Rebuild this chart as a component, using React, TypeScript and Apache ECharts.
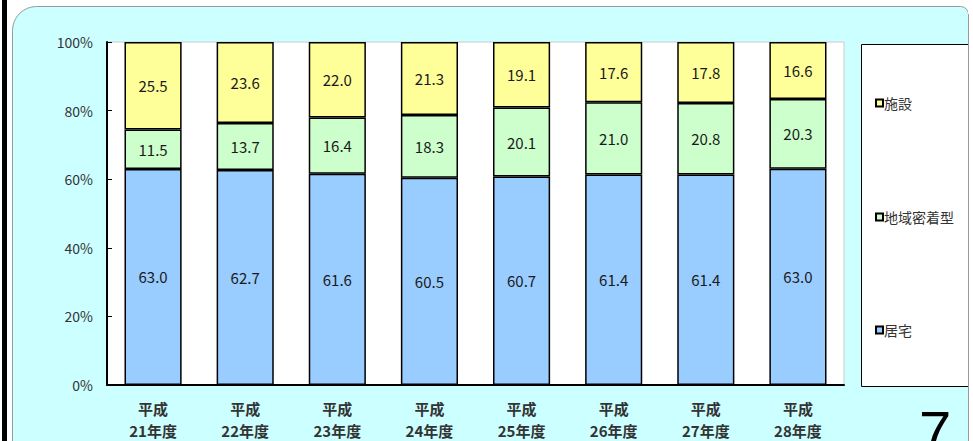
import React, { useEffect, useRef } from "react";
import * as echarts from "echarts";

const categories = ["平成\n21年度", "平成\n22年度", "平成\n23年度", "平成\n24年度", "平成\n25年度", "平成\n26年度", "平成\n27年度", "平成\n28年度"];
const kyotaku = [63.0, 62.7, 61.6, 60.5, 60.7, 61.4, 61.4, 63.0];
const chiiki = [11.5, 13.7, 16.4, 18.3, 20.1, 21.0, 20.8, 20.3];
const shisetsu = [25.5, 23.6, 22.0, 21.3, 19.1, 17.6, 17.8, 16.6];
const yTicks = [0, 20, 40, 60, 80, 100];
const pageNumber = "7";

const FONT = "'Noto Sans CJK JP', 'Noto Sans', sans-serif";

export default function App() {
  const ref = useRef<HTMLDivElement>(null);
  useEffect(() => {
    if (!ref.current) return;
    const chart = echarts.init(ref.current, null, { renderer: "svg" });
    const totals = kyotaku.map((v, i) => v + chiiki[i] + shisetsu[i]);
    const norm = (arr: number[]) => arr.map((v, i) => ({ value: (v / totals[i]) * 100, raw: v }));
    const labelCfg = {
      show: true,
      position: "inside",
      fontSize: 15,
      color: "#1a1a1a",
      fontFamily: FONT,
      formatter: (p: any) => p.data.raw.toFixed(1),
    };
    const mk = (name: string, arr: number[], color: string) => ({
      name,
      type: "bar",
      stack: "total",
      barWidth: "62%",
      data: norm(arr),
      itemStyle: { color, borderColor: "#000", borderWidth: 1.5 },
      label: labelCfg,
    });
    const legendItem = (name: string, top: number) => ({
      left: 870,
      top,
      data: [name],
      icon: "rect",
      itemWidth: 7,
      itemHeight: 7,
      itemGap: 2,
      itemStyle: { borderColor: "#000", borderWidth: 2 },
      textStyle: { fontSize: 14, color: "#333", fontFamily: FONT, padding: [0, 0, 0, -4] },
    });
    chart.setOption({
      animation: false,
      backgroundColor: "#ffffff",
      graphic: [
        {
          type: "rect",
          shape: { x: 12.5, y: 6.5, width: 956, height: 460, r: [24, 8, 0, 0] },
          style: { fill: "#ccffff", stroke: "#9a9a9a", lineWidth: 1 },
          z: -10,
        },
        {
          type: "rect",
          shape: { x: 2, y: 0, width: 5, height: 441 },
          style: { fill: "#000" },
          z: -9,
        },
        {
          type: "rect",
          shape: { x: 861.5, y: 44.5, width: 120, height: 342 },
          style: { fill: "#ffffff", stroke: "#000", lineWidth: 1 },
          z: -5,
        },
        {
          type: "rect",
          shape: { x: 968, y: 0, width: 5, height: 441 },
          style: { fill: "#ffffff" },
          z: 10,
        },
        {
          type: "line",
          shape: { x1: 968.5, y1: 14, x2: 968.5, y2: 441 },
          style: { stroke: "#9a9a9a", lineWidth: 1 },
          z: 11,
        },
        {
          type: "text",
          left: 919,
          top: 402,
          style: { text: pageNumber, fontSize: 58, fill: "#000", fontFamily: "'Liberation Sans', Arial, sans-serif" },
          z: 12,
        },
      ],
      legend: [legendItem("施設", 91), legendItem("地域密着型", 205), legendItem("居宅", 318)],
      grid: {
        left: 107,
        top: 42,
        right: 129,
        bottom: 54,
        show: true,
        backgroundColor: "#ffffff",
        borderColor: "#cccccc",
        borderWidth: 1,
        containLabel: false,
      },
      xAxis: {
        type: "category",
        data: categories,
        axisLine: { lineStyle: { color: "#000", width: 2 } },
        axisTick: { inside: true, length: 5, lineStyle: { color: "#000" } },
        axisLabel: {
          fontSize: 15,
          fontWeight: "bold",
          color: "#333",
          lineHeight: 22,
          margin: 12,
          fontFamily: FONT,
        },
      },
      yAxis: {
        type: "value",
        min: yTicks[0],
        max: yTicks[yTicks.length - 1],
        interval: 20,
        splitLine: { show: false },
        axisLine: { show: true, lineStyle: { color: "#000", width: 2 } },
        axisTick: { show: true, inside: true, length: 5, lineStyle: { color: "#000" } },
        axisLabel: {
          fontSize: 14,
          color: "#333",
          margin: 14,
          fontFamily: FONT,
          formatter: (v: number) => v + "%",
        },
      },
      series: [
        mk("居宅", kyotaku, "#99ccff"),
        mk("地域密着型", chiiki, "#ccffcc"),
        mk("施設", shisetsu, "#ffff99"),
      ],
    });
    return () => chart.dispose();
  }, []);
  return (
    <div
      ref={ref}
      style={{ position: "fixed", left: 0, top: 0, width: 973, height: 441 }}
    />
  );
}
